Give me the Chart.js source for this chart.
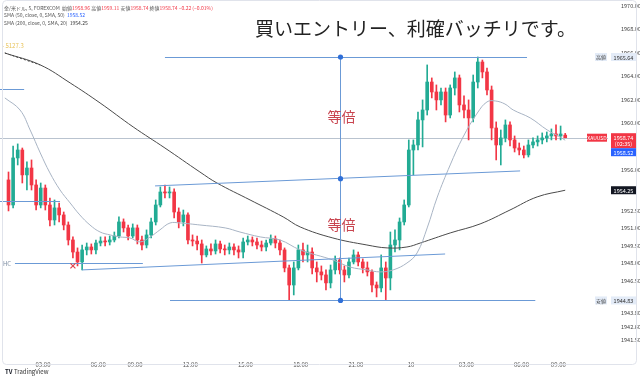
<!DOCTYPE html>
<html><head><meta charset="utf-8">
<script src="https://cdn.jsdelivr.net/npm/chart.js@4.4.1/dist/chart.umd.min.js"></script>
<style>html,body{margin:0;padding:0;background:#fff;}#wrap{width:640px;height:379px;position:relative;}</style>
</head><body><div id="wrap"><canvas id="c" width="640" height="379"></canvas></div>
<script>
// ---- data: 15-minute candles (x = slot index) ----
const opens=[1955.13,1952.99,1957.01,1957.69,1955.56,1956.15,1954.70,1952.99,1954.44,1952.99,
1951.71,1952.74,1952.14,1951.28,1950.00,1948.97,1948.12,1949.15,1949.40,1949.15,
1949.74,1949.91,1949.83,1950.00,1950.34,1951.54,1951.03,1950.34,1951.03,1950.00,
1949.57,1950.43,1951.54,1952.99,1954.10,1954.02,1954.10,1952.39,1951.54,1952.14,
1950.00,1949.91,1949.66,1948.72,1949.23,1949.06,1949.66,1949.23,1949.15,1949.40,
1949.15,1948.97,1949.83,1950.00,1949.83,1949.57,1949.40,1949.74,1950.09,1949.74,
1949.15,1947.61,1946.15,1947.61,1949.15,1948.72,1948.97,1947.61,1947.27,1947.01,
1946.33,1947.44,1948.29,1947.44,1947.01,1948.12,1948.72,1948.12,1947.61,1947.27,
1946.15,1945.90,1947.61,1946.75,1949.57,1950.00,1951.54,1952.99,1957.69,1958.12,
1960.26,1961.11,1963.50,1962.65,1961.97,1962.65,1960.68,1962.99,1963.85,1961.54,
1961.11,1960.43,1963.50,1965.21,1964.36,1962.82,1959.57,1958.12,1958.72,1959.83,
1958.55,1957.86,1957.69,1957.27,1958.12,1958.38,1958.55,1958.72,1958.89,1959.06,
1958.89,1958.96];
const highs=[1955.81,1958.03,1958.21,1957.86,1956.67,1956.84,1955.13,1954.87,1954.70,1953.59,
1953.42,1953.16,1952.39,1951.54,1950.26,1949.32,1949.57,1949.74,1949.66,1950.00,
1950.26,1950.26,1950.34,1950.68,1951.97,1951.80,1951.28,1951.37,1951.28,1950.34,
1950.86,1951.88,1953.42,1954.53,1954.70,1954.53,1954.36,1952.74,1952.56,1952.31,
1950.43,1950.34,1950.00,1949.49,1949.66,1950.00,1949.91,1949.57,1949.74,1949.66,
1949.49,1950.17,1950.34,1950.26,1950.17,1949.91,1950.00,1950.43,1950.34,1950.00,
1949.32,1947.86,1948.12,1949.57,1949.74,1949.57,1949.32,1948.12,1947.78,1947.44,
1947.86,1948.63,1948.46,1947.78,1948.46,1949.15,1948.97,1948.38,1948.12,1947.44,
1946.41,1948.72,1948.12,1950.68,1950.86,1951.88,1953.42,1958.55,1958.55,1960.94,
1961.97,1964.96,1963.85,1963.25,1962.99,1962.99,1963.25,1964.36,1964.10,1962.31,
1961.97,1964.10,1965.64,1965.38,1964.70,1963.16,1960.09,1959.40,1960.26,1960.09,
1958.89,1958.29,1958.03,1958.55,1958.72,1958.89,1959.15,1959.23,1959.49,1959.83,
1959.74,1959.11];
const lows=[1952.48,1952.74,1956.41,1954.87,1954.27,1954.27,1952.56,1952.74,1952.56,1951.20,
1951.28,1951.54,1950.86,1949.57,1948.46,1947.78,1947.44,1948.72,1948.80,1948.80,
1949.49,1949.49,1949.57,1949.83,1950.17,1950.68,1950.00,1950.17,1949.66,1949.15,
1949.32,1950.17,1951.28,1952.82,1953.59,1953.59,1951.88,1951.03,1951.20,1949.66,
1949.49,1949.15,1948.03,1948.55,1948.72,1948.80,1948.89,1948.72,1948.80,1948.72,
1948.46,1948.46,1949.57,1949.49,1949.23,1949.06,1949.06,1949.57,1949.32,1948.72,
1947.27,1944.83,1945.30,1947.44,1948.12,1948.12,1947.09,1946.41,1946.58,1945.73,
1945.90,1947.09,1947.09,1946.41,1946.75,1947.95,1947.78,1947.18,1946.92,1945.56,
1945.13,1945.56,1944.90,1945.73,1948.97,1949.15,1951.28,1952.82,1955.56,1957.69,
1957.95,1960.68,1962.14,1961.11,1961.54,1960.09,1960.43,1962.39,1960.94,1960.43,
1958.55,1960.09,1962.99,1963.85,1962.39,1958.55,1956.84,1956.41,1958.38,1958.03,
1957.52,1957.27,1957.01,1957.09,1957.86,1958.03,1958.21,1958.38,1958.55,1958.55,
1958.55,1958.74];
const closes=[1952.99,1957.01,1957.69,1955.56,1956.15,1954.70,1952.99,1954.44,1952.99,1951.71,
1952.74,1952.14,1951.28,1950.00,1948.97,1948.12,1949.15,1949.40,1949.15,1949.74,
1949.91,1949.83,1950.00,1950.34,1951.54,1951.03,1950.34,1951.03,1950.00,1949.57,
1950.43,1951.54,1952.99,1954.10,1954.02,1954.10,1952.39,1951.54,1952.14,1950.00,
1949.91,1949.66,1948.72,1949.23,1949.06,1949.66,1949.23,1949.15,1949.40,1949.15,
1948.97,1949.83,1950.00,1949.83,1949.57,1949.40,1949.74,1950.09,1949.74,1949.15,
1947.61,1946.15,1947.61,1949.15,1948.72,1948.97,1947.61,1947.27,1947.01,1946.33,
1947.44,1948.29,1947.44,1947.01,1948.12,1948.72,1948.12,1947.61,1947.27,1946.15,
1945.90,1947.61,1946.75,1949.57,1950.00,1951.54,1952.99,1957.69,1958.12,1960.26,
1961.11,1963.50,1962.65,1961.97,1962.65,1960.68,1962.99,1963.85,1961.54,1961.11,
1960.43,1963.50,1965.21,1964.36,1962.82,1959.57,1958.12,1958.72,1959.83,1958.55,
1957.86,1957.69,1957.27,1958.12,1958.38,1958.55,1958.72,1958.89,1959.06,1958.89,
1959.06,1958.74];
// moving averages (slot, price)
const sma50X=[-0.8,2.5,4.7,6.9,9.0,11.2,13.4,15.5,17.7,19.9,22.1,24.2,26.4,28.6,30.8,32.9,35.1,37.3,39.5,41.6,47.1,50.3,54.7,59.0,63.4,70.5,74.2,77.9,80.8,83.6,86.6,88.8,91.0,93.2,96.0,98.8,101.9,104.0,105.8,107.9,109.7,113.4,117.1,119.9,121.0];
const sma50Y=[1962.14,1961.11,1959.40,1957.44,1955.73,1954.27,1953.16,1952.14,1951.28,1950.68,1950.43,1950.26,1950.17,1949.83,1950.26,1950.86,1951.45,1951.45,1951.37,1951.28,1951.03,1950.68,1950.26,1950.00,1949.15,1948.29,1947.69,1947.44,1947.27,1947.44,1948.03,1948.89,1951.03,1953.67,1956.41,1958.80,1960.85,1961.80,1961.88,1961.62,1961.11,1960.43,1959.40,1958.80,1958.52];
const sma200X=[-0.8,6.9,13.4,19.9,27.1,34.0,41.6,45.3,52.5,59.7,63.4,70.5,77.9,82.3,86.6,89.5,96.0,102.5,109.0,114.9,121.0];
const sma200Y=[1965.98,1964.96,1963.42,1961.71,1959.66,1957.86,1955.81,1954.87,1953.42,1951.97,1951.11,1950.17,1949.57,1949.32,1949.40,1949.74,1950.60,1951.37,1952.56,1953.68,1954.25];
const xTickPos=[7.5,19.5,27.5,39.5,51.5,63.5,75.5,87.5,99.5,111.5,119.5];
const xTickLabels=['03:00','06:00','09:00','12:00','15:00','18:00','21:00','10','03:00','06:00','09:00'];
const yTickValues=[1970,1968,1966,1964,1962,1960,1956,1952.5,1951,1949.5,1948,1946.5,1943.8,1942.6,1941.5];
const lastPrice=1958.74, sma50Last=1958.52, sma200Last=1954.25, rangeHigh=1965.64, rangeLow=1944.83;
// user drawings (slot, price)
const hLines=[[34.0,112.7,1965.64],[35.1,114.5,1944.83],[1.4,29.2,1948.03],[-2,3.4,1962.91],[-2,11.2,1953.33]];
const trendLines=[[31.85,1954.62,111.2,1955.90],[16.0,1947.44,94.9,1948.80]];
const measureX=72.07;

const UP='#22ab94', DOWN='#f23645';
const X_MIN=-1.85, X_MAX=130.3;

const bodyData=opens.map((o,i)=>({x:i,y:[Math.min(o,closes[i]),Math.max(o,closes[i])]}));
const wickData=highs.map((h,i)=>({x:i,y:[lows[i],h]}));
const candleColors=opens.map((o,i)=>closes[i]>=o?UP:DOWN);
const sma50Data=sma50X.map((x,i)=>({x,y:sma50Y[i]}));
const sma200Data=sma200X.map((x,i)=>({x,y:sma200Y[i]}));

const FONT='"Noto Sans CJK JP","Noto Sans",sans-serif';

function box(ctx,x,y,w,h,bg,txt,fg,size){
  ctx.fillStyle=bg;ctx.fillRect(x,y-h/2,w,h);
  ctx.fillStyle=fg;ctx.font=(size||5.5)+'px '+FONT;ctx.textAlign='center';ctx.textBaseline='middle';
  ctx.fillText(txt,x+w/2,y+0.5);
}

const drawPlugin={
  id:'draw',
  beforeDatasetsDraw(chart){
    const {ctx,chartArea:a,scales:{x,y}}=chart;
    ctx.save();
    ctx.strokeStyle='#b9c3cf';ctx.lineWidth=1;
    const py=Math.round(y.getPixelForValue(lastPrice))+0.5;
    ctx.beginPath();ctx.moveTo(a.left,py);ctx.lineTo(a.right,py);ctx.stroke();
    ctx.restore();
  },
  afterDatasetsDraw(chart){
    const {ctx,chartArea:a,scales:{x,y}}=chart;
    ctx.save();
    ctx.beginPath();ctx.rect(a.left,a.top,a.right-a.left,a.bottom-a.top);ctx.clip();
    ctx.strokeStyle='#6b9ad6';ctx.lineWidth=1;
    hLines.forEach(([x1,x2,p])=>{
      const yy=Math.round(y.getPixelForValue(p))+0.5;
      ctx.beginPath();ctx.moveTo(x.getPixelForValue(x1),yy);ctx.lineTo(x.getPixelForValue(x2),yy);ctx.stroke();
    });
    trendLines.forEach(([x1,p1,x2,p2])=>{
      ctx.beginPath();ctx.moveTo(x.getPixelForValue(x1),y.getPixelForValue(p1));ctx.lineTo(x.getPixelForValue(x2),y.getPixelForValue(p2));ctx.stroke();
    });
    const mx=Math.round(x.getPixelForValue(measureX))+0.5;
    const yT=y.getPixelForValue(rangeHigh), yB=y.getPixelForValue(rangeLow), yM=(yT+yB)/2;
    ctx.beginPath();ctx.moveTo(mx,yT);ctx.lineTo(mx,yB);ctx.stroke();
    ctx.fillStyle='#2f6fd8';
    [yT,yM,yB].forEach(v=>{ctx.beginPath();ctx.arc(mx,v,2.6,0,Math.PI*2);ctx.fill();});
    ctx.strokeStyle='#444';ctx.setLineDash([2,2]);
    ctx.beginPath();ctx.moveTo(x.getPixelForValue(-0.8),y.getPixelForValue(1965.98));ctx.lineTo(x.getPixelForValue(6.9),y.getPixelForValue(1964.96));ctx.stroke();
    ctx.setLineDash([]);
    ctx.fillStyle='#c94550';ctx.font='14px '+FONT;ctx.textAlign='center';ctx.textBaseline='middle';
    ctx.fillText('等倍',mx+1,y.getPixelForValue(1960.5));
    ctx.fillText('等倍',mx+1,y.getPixelForValue(1951.3));
    const cx=x.getPixelForValue(14.0), cy=y.getPixelForValue(1947.78);
    ctx.strokeStyle='#e0454f';ctx.lineWidth=1.2;
    ctx.beginPath();ctx.moveTo(cx-2.5,cy-2.5);ctx.lineTo(cx+2.5,cy+2.5);ctx.moveTo(cx+2.5,cy-2.5);ctx.lineTo(cx-2.5,cy+2.5);ctx.stroke();
    ctx.fillStyle='#7a8aa0';ctx.font='6px '+FONT;ctx.textAlign='left';
    ctx.fillText('HC',3,y.getPixelForValue(1948.03)+0.5);
    ctx.fillStyle='#e8c35a';
    ctx.fillText('- 5127.3',2,y.getPixelForValue(1966.6));
    ctx.restore();
  },
  afterDraw(chart){
    const {ctx,chartArea:a,scales:{x,y}}=chart;
    ctx.save();
    ctx.fillStyle='#222';ctx.font='19px '+FONT;ctx.textAlign='left';ctx.textBaseline='middle';
    ctx.fillText('買いエントリー、利確バッチリです。',255,29);
    ctx.font='5px '+FONT;ctx.textBaseline='middle';
    let xx=4;
    const seg=(t,c,yy)=>{ctx.fillStyle=c;ctx.fillText(t,xx,yy);xx+=ctx.measureText(t).width;};
    const G='#555', R='#f23645';
    seg('金/米ドル, 5, FOREXCOM  ',G,8);seg('始値',G,8);seg('1958.96 ',R,8);seg('高値',G,8);seg('1959.11 ',R,8);
    seg('安値',G,8);seg('1958.74 ',R,8);seg('終値',G,8);seg('1958.74 ',R,8);seg('−0.22 (−0.01%)',R,8);
    xx=4;seg('SMA (50, close, 0, SMA, 50)  ',G,15.5);seg('1958.52','#2962ff',15.5);
    xx=4;seg('SMA (200, close, 0, SMA, 20)  ',G,23);seg('1954.25','#333',23);
    const bx=a.right+3, bw=25;
    box(ctx,bx,y.getPixelForValue(rangeHigh),bw,8,'#e3ebf7','1965.64','#333');
    box(ctx,a.right-13,y.getPixelForValue(rangeHigh),12,8,'#e3ebf7','高値','#444',5);
    box(ctx,bx,y.getPixelForValue(rangeLow),bw,8,'#e3ebf7','1944.83','#333');
    box(ctx,a.right-13,y.getPixelForValue(rangeLow),12,8,'#e3ebf7','安値','#444',5);
    const ly=y.getPixelForValue(lastPrice);
    ctx.fillStyle='#f23645';ctx.fillRect(bx,ly-4.5,bw,15);
    ctx.fillStyle='#fff';ctx.font='5.5px '+FONT;ctx.textAlign='center';
    ctx.fillText('1958.74',bx+bw/2,ly);ctx.fillText('(02:35)',bx+bw/2,ly+6.5);
    box(ctx,a.right-21,ly,20,8,'#f23645','XAUUSD','#fff',5);
    box(ctx,bx,ly+14.5,bw,8,'#2962ff','1958.52','#fff');
    box(ctx,bx,y.getPixelForValue(sma200Last),bw,8,'#131722','1954.25','#fff');
    ctx.strokeStyle='#e0e3eb';ctx.lineWidth=1;
    ctx.beginPath();ctx.roundRect(2.5,0.5,634,364,4);ctx.stroke();
    ctx.fillStyle='#131722';ctx.font='bold 6px '+FONT;ctx.textAlign='left';
    ctx.fillText('TV',5,372);
    ctx.font='6px '+FONT;ctx.fillStyle='#333';ctx.fillText('TradingView',14,372);
    ctx.restore();
  }
};

new Chart(document.getElementById('c'),{
  type:'bar',
  data:{datasets:[
    {type:'line',data:sma50Data,borderColor:'#a8b4c4',borderWidth:1,pointRadius:0,tension:0.4,order:0},
    {type:'line',data:sma200Data,borderColor:'#4a4a4a',borderWidth:1,pointRadius:0,tension:0.4,order:0},
    {data:bodyData,backgroundColor:candleColors,barThickness:3,minBarLength:1,grouped:false,order:1},
    {data:wickData,backgroundColor:candleColors,barThickness:1,grouped:false,order:2}
  ]},
  options:{
    responsive:false,animation:false,
    layout:{padding:0},
    plugins:{legend:{display:false},tooltip:{enabled:false}},
    scales:{
      x:{type:'linear',min:X_MIN,max:X_MAX,offset:false,
        grid:{display:false},border:{display:false},
        afterBuildTicks(s){s.ticks=xTickPos.map(v=>({value:v}));},
        afterFit(s){s.height=30;s.paddingLeft=0;s.paddingRight=0;},
        ticks:{autoSkip:false,maxRotation:0,padding:4,color:'#555',font:{size:6,family:FONT},
          callback(v){const k=xTickPos.indexOf(v);return k>=0?xTickLabels[k]:'';}}
      },
      y:{position:'right',min:1940.68,max:1970.51,
        grid:{display:false},border:{display:false},
        afterBuildTicks(s){s.ticks=yTickValues.map(v=>({value:v}));},
        afterFit(s){s.width=32;s.paddingTop=0;s.paddingBottom=0;},
        ticks:{padding:5,color:'#444',font:{size:5.5,family:FONT},callback(v){return Number(v).toFixed(2);}}
      }
    }
  },
  plugins:[drawPlugin]
});
</script></body></html>
